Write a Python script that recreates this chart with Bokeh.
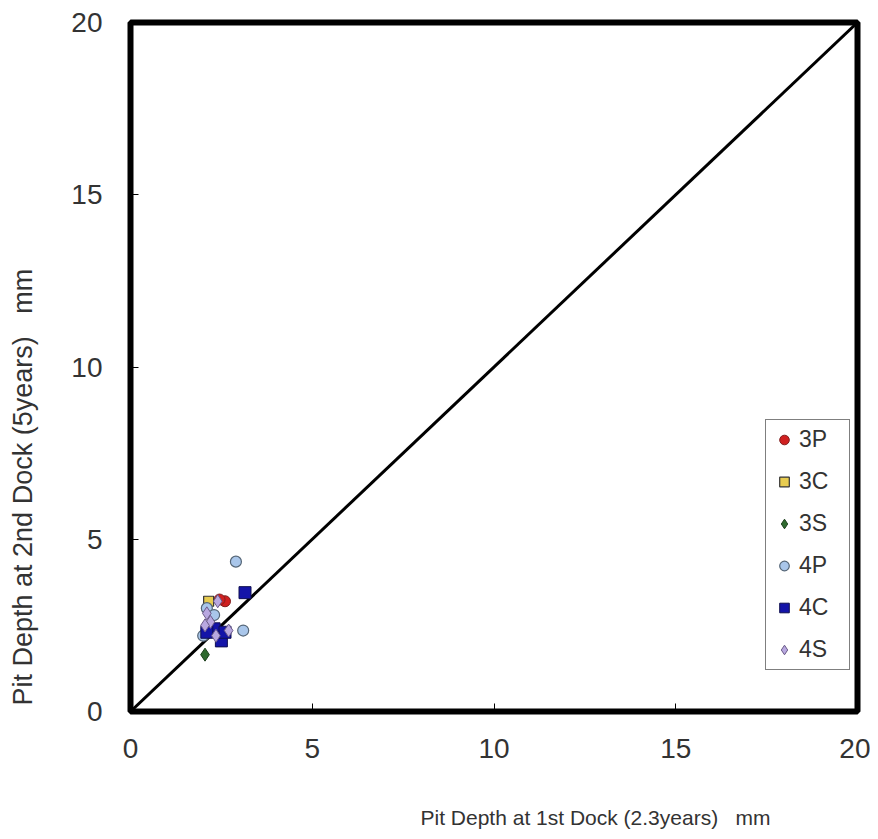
from bokeh.plotting import figure
from bokeh.models import Legend, LegendItem, FixedTicker, Range1d, Title
from bokeh.embed import file_html
from bokeh.resources import INLINE

# data (x = pit depth at 1st dock, y = pit depth at 2nd dock), mm
x_3P = [2.6, 2.45]
y_3P = [3.2, 3.25]
x_3C = [2.15]
y_3C = [3.2]
x_3S = [2.05]
y_3S = [1.65]
x_4P = [2.9, 3.1, 2.1, 2.3, 2.0]
y_4P = [4.35, 2.35, 3.0, 2.8, 2.2]
x_4C = [3.15, 2.5, 2.3, 2.6, 2.1]
y_4C = [3.45, 2.05, 2.4, 2.3, 2.3]
x_4S = [2.1, 2.2, 2.4, 2.7, 2.35, 2.05]
y_4S = [2.85, 2.6, 3.2, 2.35, 2.2, 2.5]
line_x = [0, 20]
line_y = [0, 20]
ticks = [0, 5, 10, 15, 20]

FONT = "Liberation Sans"
TXT = "#333333"
SP = "\u00a0\u00a0\u00a0"

p = figure(width=870, height=839, output_backend="svg", toolbar_location=None,
           x_range=Range1d(0, 20), y_range=Range1d(0, 20),
           min_border_left=130, min_border_right=13, min_border_top=22, min_border_bottom=128)
p.grid.visible = False
p.outline_line_color = "black"
p.outline_line_width = 6
p.background_fill_color = "white"
p.border_fill_color = "white"

for ax in (p.xaxis[0], p.yaxis[0]):
    ax.ticker = FixedTicker(ticks=ticks)
    ax.axis_line_color = None
    ax.major_tick_in = 8
    ax.major_tick_out = 0
    ax.major_tick_line_color = "black"
    ax.major_tick_line_width = 1
    ax.minor_tick_line_color = None
    ax.major_label_text_font = FONT
    ax.major_label_text_font_size = "28px"
    ax.major_label_text_color = TXT
    # blank spacer label to push the titles outward
    ax.axis_label = "\u00a0"
    ax.axis_label_text_font_size = "10px"
p.xaxis[0].major_label_standoff = 27
p.yaxis[0].major_label_standoff = 28
p.xaxis[0].axis_label_standoff = 24
p.yaxis[0].axis_label_standoff = 12

p.line(line_x, line_y, line_color="black", line_width=3)

r3P = p.scatter(x_3P, y_3P, marker="circle", size=11, fill_color="#d02020", line_color="#802020", line_width=1)
r3C = p.scatter(x_3C, y_3C, marker="square", size=10, fill_color="#e8cc50", line_color="#333333", line_width=1.2)
r3S = p.scatter(x_3S, y_3S, marker="diamond", size=13, fill_color="#2f6a2f", line_color="#1d401d", line_width=1)
r4P = p.scatter(x_4P, y_4P, marker="circle", size=11, fill_color="#a9c6ea", line_color="#556677", line_width=1.2)
r4C = p.scatter(x_4C, y_4C, marker="square", size=12, fill_color="#1414a8", line_color="#101050", line_width=1)
r4S = p.scatter(x_4S, y_4S, marker="diamond", size=13, fill_color="#b8a8e0", line_color="#6a5a88", line_width=1)

legend = Legend(items=[
    LegendItem(label="3P", renderers=[r3P]),
    LegendItem(label="3C", renderers=[r3C]),
    LegendItem(label="3S", renderers=[r3S]),
    LegendItem(label="4P", renderers=[r4P]),
    LegendItem(label="4C", renderers=[r4C]),
    LegendItem(label="4S", renderers=[r4S]),
], location=(635, 41))
legend.label_text_font = FONT
legend.label_text_font_size = "23px"
legend.label_text_color = TXT
legend.border_line_color = "black"
legend.border_line_width = 1.5
legend.background_fill_alpha = 1
legend.glyph_width = 24
legend.glyph_height = 27
legend.label_height = 27
legend.label_width = 44
legend.label_standoff = 3
legend.spacing = 15
legend.padding = 6
legend.margin = 0
p.add_layout(legend, "center")

p.add_layout(Title(text="Pit Depth at 1st Dock (2.3years)" + SP + "mm", align="left", offset=290,
                   standoff=10, text_font=FONT, text_font_size="21px", text_color=TXT,
                   text_font_style="normal"), "below")
p.add_layout(Title(text="Pit Depth at 2nd Dock (5years)" + SP + "mm", align="left", offset=6,
                   standoff=10, text_font=FONT, text_font_size="27px", text_color=TXT,
                   text_font_style="normal"), "left")

open("out.html", "w").write(file_html(p, INLINE))
